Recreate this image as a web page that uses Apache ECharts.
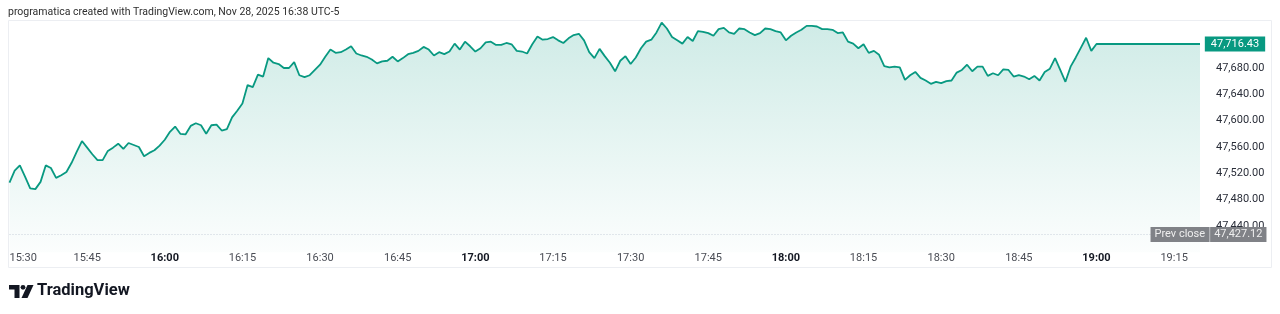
<!DOCTYPE html>
<html>
<head>
<meta charset="utf-8">
<script src="https://cdn.jsdelivr.net/npm/echarts@6/dist/echarts.min.js"></script>
<style>
html,body{margin:0;padding:0;background:#fff;}
#chart{width:1280px;height:314px;}
</style>
</head>
<body>
<div id="chart"></div>
<script>
// ---- data (1-minute closes from 15:30) ----
const startHour = 15, startMinute = 30;
const prices = [
  47506, 47524, 47532, 47515, 47497, 47496, 47507, 47532, 47528, 47513,
  47517, 47522, 47536, 47553, 47569, 47559, 47549, 47540, 47540, 47554,
  47559, 47565, 47557, 47566, 47563, 47560, 47546, 47551, 47555, 47562,
  47571, 47583, 47591, 47580, 47579, 47592, 47596, 47593, 47580, 47593,
  47594, 47585, 47587, 47605, 47615, 47626, 47654, 47651, 47670, 47667,
  47695, 47688, 47686, 47680, 47680, 47689, 47669, 47666, 47669, 47677,
  47685, 47697, 47708, 47703, 47704, 47708, 47713, 47702, 47699, 47697,
  47693, 47687, 47690, 47691, 47697, 47690, 47695, 47701, 47703, 47706,
  47712, 47708, 47699, 47704, 47701, 47705, 47717, 47708, 47720, 47713,
  47705, 47710, 47719, 47720, 47715, 47715, 47718, 47716, 47706, 47705,
  47702, 47716, 47728, 47723, 47724, 47727, 47722, 47718, 47725, 47730,
  47732, 47722, 47704, 47695, 47709, 47698, 47688, 47675, 47691, 47698,
  47686, 47696, 47710, 47720, 47723, 47734, 47749, 47740, 47727, 47722,
  47717, 47727, 47721, 47736, 47735, 47733, 47729, 47739, 47741, 47734,
  47732, 47740, 47739, 47734, 47730, 47733, 47740, 47739, 47736, 47734,
  47722, 47729, 47734, 47738, 47744, 47744, 47743, 47739, 47739, 47738,
  47733, 47734, 47720, 47717, 47710, 47716, 47703, 47706, 47700, 47683,
  47681, 47682, 47681, 47662, 47669, 47674, 47665, 47661, 47656, 47659,
  47657, 47660, 47661, 47673, 47677, 47685, 47675, 47682, 47682, 47668,
  47672, 47669, 47678, 47677, 47667, 47669, 47667, 47663, 47668, 47661,
  47674, 47679, 47695, 47677, 47659, 47682, 47696, 47711, 47726, 47706,
  47716.43,
  47716.43, 47716.43, 47716.43, 47716.43, 47716.43, 47716.43, 47716.43, 47716.43, 47716.43, 47716.43,
  47716.43, 47716.43, 47716.43, 47716.43, 47716.43, 47716.43, 47716.43, 47716.43, 47716.43, 47716.43
];
const lastPrice = 47716.43;
const prevClose = 47427.12;
const yTickLabels = [47440, 47480, 47520, 47560, 47600, 47640, 47680];
const headerText = 'programatica created with TradingView.com, Nov 28, 2025 16:38 UTC-5';

function fmt(v) {
  const s = v.toFixed(2);
  const [i, d] = s.split('.');
  return i.replace(/\B(?=(\d{3})+(?!\d))/g, ',') + '.' + d;
}
function timeLabel(m) {
  const tot = startHour * 60 + startMinute + m;
  const h = Math.floor(tot / 60), mm = tot % 60;
  return h + ':' + (mm < 10 ? '0' : '') + mm;
}

const FONT = 'Roboto, Inter, "Noto Sans", sans-serif';
const chart = echarts.init(document.getElementById('chart'), null, {renderer: 'canvas'});
const green = '#089981';

chart.setOption({
  animation: false,
  backgroundColor: '#ffffff',
  textStyle: {fontFamily: FONT},
  grid: {left: 9.5, right: 80, top: 20, bottom: 61.7, containLabel: false},
  xAxis: {
    type: 'value', min: 0, max: 230, interval: 15,
    axisLine: {show: false}, axisTick: {show: false}, splitLine: {show: false},
    axisLabel: {
      margin: 0, fontSize: 11, fontFamily: FONT, alignMinLabel: 'left',
      formatter: function (v) {
        if (v % 15 !== 0) return '';
        const t = timeLabel(v);
        return t.endsWith(':00') ? '{b|' + t + '}' : '{n|' + t + '}';
      },
      rich: {
        b: {fontWeight: 'bold', color: '#131722', fontSize: 11, fontFamily: FONT},
        n: {color: '#4a4d55', fontSize: 11, fontFamily: FONT}
      }
    }
  },
  yAxis: {
    type: 'value', position: 'right', min: 47400, max: 47752.9, interval: 40,
    axisLine: {show: false}, axisTick: {show: false}, splitLine: {show: false},
    axisLabel: {
      margin: 16, fontSize: 11, color: '#2a2e39', fontFamily: FONT,
      formatter: function (v) { return yTickLabels.indexOf(v) >= 0 ? fmt(v) : ''; }
    }
  },
  graphic: [
    {type: 'rect', shape: {x: 8.5, y: 20.5, width: 1263, height: 247}, style: {fill: 'none', stroke: '#eceef2', lineWidth: 1}, z: -1, silent: true},
    {type: 'text', left: 8, top: 7, style: {text: headerText, fill: '#2e2e2e', font: '10.5px ' + FONT}},
    {type: 'polygon', shape: {points: [[9,285],[19.5,285],[19.5,298],[14.5,298],[14.5,289.5],[9,289.5]]}, style: {fill: '#131722'}},
    {type: 'circle', shape: {cx: 23, cy: 287.3, r: 2.4}, style: {fill: '#131722'}},
    {type: 'polygon', shape: {points: [[27.5,285],[33.5,285],[27.5,298],[21.5,298]]}, style: {fill: '#131722'}},
    {type: 'text', left: 37, top: 282, style: {text: 'TradingView', fill: '#131722', font: 'bold 16.5px ' + FONT}}
  ],
  series: [{
    type: 'line',
    data: prices.map((p, i) => [i, p]),
    showSymbol: false,
    symbol: 'none',
    lineStyle: {color: green, width: 1.8},
    areaStyle: {
      origin: 'start',
      color: new echarts.graphic.LinearGradient(0, 0, 0, 1, [
        {offset: 0, color: 'rgba(8,153,129,0.28)'},
        {offset: 1, color: 'rgba(8,153,129,0.02)'}
      ])
    },
    markLine: {
      silent: true, symbol: ['none', 'none'], animation: false,
      lineStyle: {color: '#c9d0da', type: [1, 2], width: 1},
      label: {show: false},
      data: [{yAxis: prevClose}]
    },
    markPoint: {
      silent: true, animation: false,
      symbol: 'rect', symbolSize: 1,
      itemStyle: {color: 'rgba(0,0,0,0)'},
      data: [
        {
          coord: [230, lastPrice],
          label: {
            show: true, position: 'inside', offset: [35, 0],
            formatter: fmt(lastPrice),
            color: '#ffffff', fontSize: 11, fontFamily: FONT,
            backgroundColor: green, padding: [2, 6, 2, 6], lineHeight: 11
          }
        },
        {
          coord: [230, prevClose],
          label: {
            show: true, position: 'inside', offset: [8.5, 0],
            formatter: '{a|Prev close}{s| }{c|' + fmt(prevClose) + '}',
            rich: {
              a: {color: '#eeeeee', fontSize: 11, fontFamily: FONT, backgroundColor: '#808287', padding: [2, 4, 2, 4], lineHeight: 11},
              s: {width: 1, backgroundColor: '#a9abaf', padding: [2, 0, 2, 0], lineHeight: 11, fontSize: 11},
              c: {color: '#eeeeee', fontSize: 11, fontFamily: FONT, backgroundColor: '#808287', padding: [2, 4, 2, 4], lineHeight: 11}
            }
          }
        }
      ]
    }
  }]
});
</script>
</body>
</html>
